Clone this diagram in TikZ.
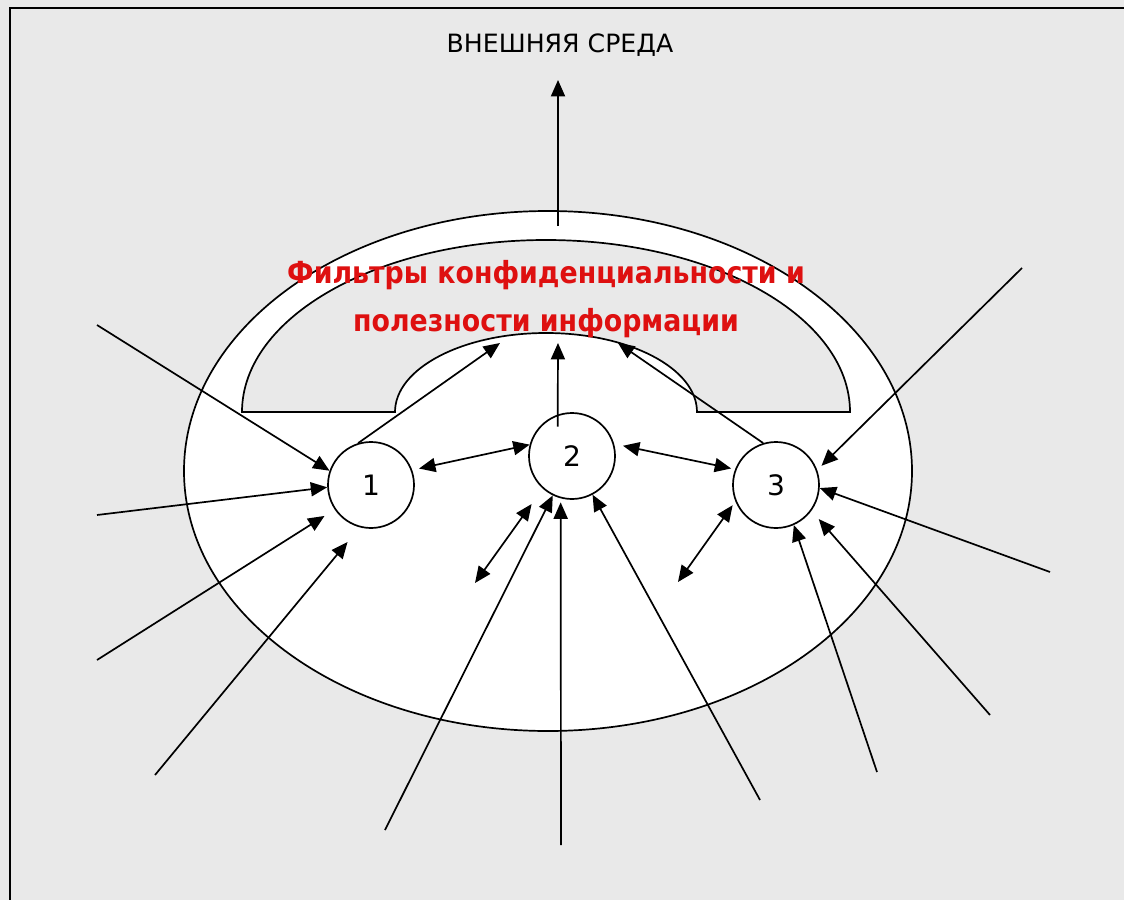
\documentclass[tikz,border=0pt]{standalone}
\usepackage{fontspec}
\setmainfont{DejaVu Sans}
\newfontfamily\filtfont[FakeStretch=0.88]{DejaVu Sans}
\usepackage{xcolor}
\usepackage{tikz}
\usetikzlibrary{arrows.meta}
\definecolor{bggray}{RGB}{233,233,233}
\definecolor{filtred}{RGB}{222,16,16}

\begin{document}
\begin{tikzpicture}[x=0.3mm, y=0.3mm, line width=1.45pt,
  unit/.style={circle, draw, fill=white, minimum size=2.58cm, inner sep=0pt,
    font=\fontsize{24}{28}\selectfont},
  flow/.style={-{Triangle[length=14pt, width=12pt]}},
  both/.style={{Triangle[length=14pt, width=12pt]}-{Triangle[length=14pt, width=12pt]}}]
% ---- frame ----
\fill[bggray] (0,0) rectangle (1124,-900);
\useasboundingbox (0,0) rectangle (1124,-900);
\draw[line width=1.8pt] (10,-900) -- (10,-8) -- (1124,-8);
% ---- environment ----
\node[font=\fontsize{21.5}{26}\selectfont] (env) at (560,-45) {ВНЕШНЯЯ СРЕДА};
% ---- system: ellipse and filter arch ----
\draw[fill=white] (548,-471) ellipse [x radius=364, y radius=260];
\draw[fill=bggray] (242,-412) arc[start angle=180, end angle=0, x radius=304, y radius=172]
  -- (697,-412) arc[start angle=0, end angle=180, x radius=151, y radius=79] -- cycle;
\node[text=filtred, align=center, font=\filtfont\bfseries\fontsize{26}{41}\selectfont]
  (filt) at (546,-299) {Фильтры конфиденциальности и\\полезности информации};
% ---- units ----
\node[unit] (n1) at (371,-485) {1};
\node[unit] (n2) at (572,-456) {2};
\node[unit] (n3) at (776,-485) {3};
% free ends
\coordinate (l1) at (97,-325);
\coordinate (l2) at (97,-515);
\coordinate (l3) at (97,-660);
\coordinate (l4) at (155,-775);
\coordinate (b1) at (385,-830);
\coordinate (b2) at (561,-845);
\coordinate (b3) at (760,-800);
\coordinate (r1) at (1022,-268);
\coordinate (r2) at (1050,-572);
\coordinate (r3) at (990,-715);
\coordinate (r4) at (877,-772);
\coordinate (q1) at (475,-583);
\coordinate (q2) at (678,-582);
\coordinate (f1) at (500,-343);
\coordinate (f2) at (558,-343);
\coordinate (f3) at (618,-343);
\coordinate (e0) at (558,-226);
\coordinate (e1) at (558,-80);
% ---- flows ----
\draw[flow] (e0) -- (e1);
\draw[flow] (l1) -- (n1.161);
\draw[flow] (l2) -- (n1.183);
\draw[flow, shorten >=0.36cm] (l3) -- (n1.214);
\draw[flow, shorten >=0.57cm] (l4) -- (n1.255);
\draw[flow] (n1.107) -- (f1);
\draw[both, shorten <=0.21cm] (n1.20) -- (n2.165);
\draw[flow, shorten <=-0.36cm] (n2.109) -- (f2);
\draw[both, shorten >=0.57cm] (q1) -- (n2.228);
\draw[flow] (b1) -- (n2.244);
\draw[flow, shorten >=0.12cm] (b2) -- (n2.255);
\draw[flow] (b3) -- (n2.298);
\draw[both, shorten <=0.27cm, shorten >=0.12cm] (n2.16) -- (n3.159);
\draw[flow] (n3.107) -- (f3);
\draw[flow, shorten >=0.18cm] (r1) -- (n3.20);
\draw[flow] (r2) -- (n3.356);
\draw[flow, shorten >=0.33cm] (r3) -- (n3.324);
\draw[flow] (r4) -- (n3.294);
\draw[both, shorten >=0.14cm] (q2) -- (n3.202);
\end{tikzpicture}
\end{document}
